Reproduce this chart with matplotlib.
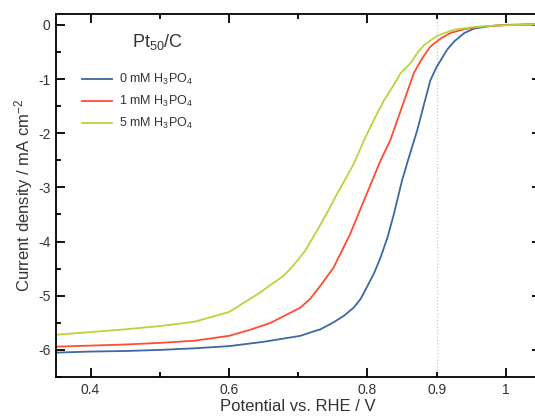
import matplotlib
matplotlib.use("Agg")
import matplotlib.pyplot as plt
from matplotlib.ticker import FixedLocator, FixedFormatter

plt.rcParams['font.family'] = ['Liberation Sans', 'DejaVu Sans']
plt.rcParams['mathtext.fontset'] = 'custom'
plt.rcParams['mathtext.rm'] = 'Liberation Sans'
plt.rcParams['mathtext.it'] = 'Liberation Sans:italic'
plt.rcParams['axes.unicode_minus'] = False

# dados
x_0mM = [0.35, 0.40, 0.45, 0.50, 0.55, 0.60, 0.65, 0.703, 0.717, 0.732, 0.751, 0.766, 0.780, 0.790,
         0.800, 0.810, 0.819, 0.829, 0.838, 0.850, 0.860, 0.872, 0.882, 0.891, 0.899, 0.906,
         0.915, 0.925, 0.940, 0.954, 0.973, 1.0, 1.05]
y_0mM = [-6.05, -6.03, -6.02, -6.00, -5.97, -5.93, -5.85, -5.74, -5.68, -5.62, -5.49, -5.37, -5.22, -5.06,
         -4.82, -4.57, -4.29, -3.92, -3.50, -2.87, -2.44, -1.94, -1.45, -1.02, -0.80, -0.65,
         -0.46, -0.31, -0.15, -0.07, -0.03, 0.0, 0.01]

x_1mM = [0.35, 0.40, 0.45, 0.50, 0.55, 0.60, 0.63, 0.66, 0.703, 0.717, 0.734, 0.751, 0.763, 0.775,
         0.785, 0.795, 0.807, 0.819, 0.833, 0.850, 0.867, 0.879, 0.891, 0.906, 0.920, 0.940,
         0.960, 0.99, 1.05]
y_1mM = [-5.94, -5.92, -5.90, -5.87, -5.83, -5.74, -5.63, -5.50, -5.22, -5.06, -4.78, -4.48, -4.17, -3.86,
         -3.55, -3.24, -2.87, -2.50, -2.13, -1.51, -0.89, -0.62, -0.40, -0.25, -0.15, -0.08,
         -0.04, -0.01, 0.01]

x_5mM = [0.35, 0.40, 0.45, 0.50, 0.55, 0.60, 0.630, 0.645, 0.659, 0.679, 0.693, 0.710, 0.727, 0.742,
         0.756, 0.771, 0.780, 0.795, 0.809, 0.824, 0.838, 0.848, 0.862, 0.872, 0.882, 0.901,
         0.925, 0.954, 0.99, 1.05]
y_5mM = [-5.72, -5.67, -5.62, -5.56, -5.48, -5.30, -5.06, -4.94, -4.81, -4.63, -4.44, -4.17, -3.80, -3.46,
         -3.12, -2.78, -2.57, -2.13, -1.76, -1.39, -1.11, -0.89, -0.71, -0.52, -0.37, -0.20,
         -0.09, -0.04, -0.01, 0.01]

labels = ["0 mM H$_\\mathregular{3}$PO$_\\mathregular{4}$",
          "1 mM H$_\\mathregular{3}$PO$_\\mathregular{4}$",
          "5 mM H$_\\mathregular{3}$PO$_\\mathregular{4}$"]
cores = ["#3d67a5", "#ff4d2e", "#b9d43a"]

fig = plt.figure(figsize=(5.35, 4.19), dpi=100)
ax = fig.add_axes([0.1047, 0.1002, 1.0103 - 0.1047, 0.9666 - 0.1002])

ax.axvline(0.9, color="#c8c8c8", lw=0.9, ls=":", zorder=1)
ax.plot(x_0mM, y_0mM, color=cores[0], lw=1.3, label=labels[0])
ax.plot(x_1mM, y_1mM, color=cores[1], lw=1.3, label=labels[1])
ax.plot(x_5mM, y_5mM, color=cores[2], lw=1.3, label=labels[2])

ax.set_xlim(0.35, 1.05)
ax.set_ylim(-6.5, 0.2)

ax.xaxis.set_major_locator(FixedLocator([0.4, 0.6, 0.8, 1.0]))
ax.xaxis.set_major_formatter(FixedFormatter(["0.4", "0.6", "0.8", "1"]))
ax.xaxis.set_minor_locator(FixedLocator([0.5, 0.7, 0.9]))
ax.xaxis.set_minor_formatter(FixedFormatter(["", "", "0.9"]))
ax.yaxis.set_major_locator(FixedLocator([0, -1, -2, -3, -4, -5, -6]))
ax.yaxis.set_major_formatter(FixedFormatter(["0", "-1", "-2", "-3", "-4", "-5", "-6"]))
ax.yaxis.set_minor_locator(FixedLocator([-0.5, -1.5, -2.5, -3.5, -4.5, -5.5, -6.5]))

ax.tick_params(which="both", direction="in", top=True, right=True, width=1.3,
               labelsize=10, labelcolor="#333333", pad=4)
ax.tick_params(which="major", length=6.5)
ax.tick_params(which="minor", length=3.6)
for s in ax.spines.values():
    s.set_linewidth(1.3)

ax.set_xlabel("Potential vs. RHE / V", fontsize=12, color="#333333", labelpad=2)
ax.set_ylabel("Current density / mA cm$^{\\mathregular{-2}}$", fontsize=12, color="#333333", labelpad=2)

ax.text(0.2085, 0.923, "Pt$_\\mathregular{50}$/C", transform=ax.transAxes, fontsize=13,
        color="#333333", ha="center", va="center")

ax.legend(loc="upper left", bbox_to_anchor=(0.03, 0.871), frameon=False, fontsize=9,
          handlelength=2.4, handletextpad=0.6, labelspacing=0.55, labelcolor="#333333")

fig.savefig("out.png", dpi=100)
